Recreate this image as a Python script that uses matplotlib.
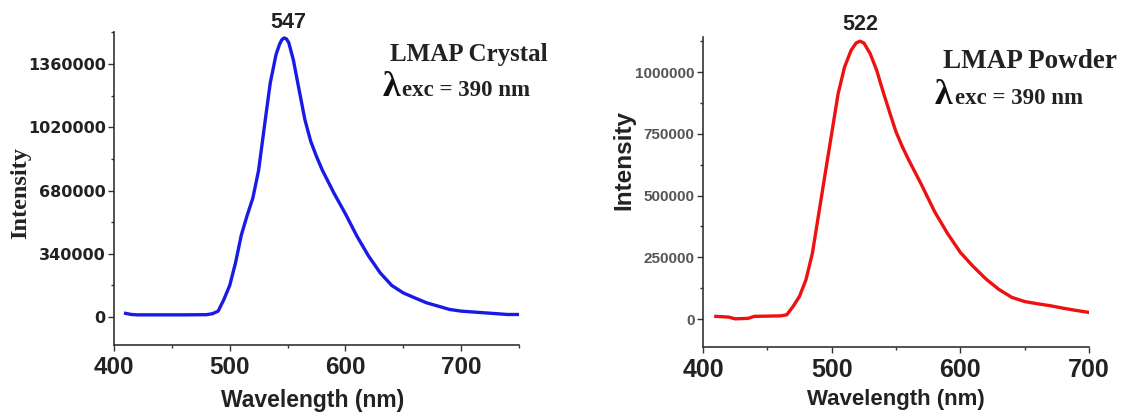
import numpy as np
import matplotlib
matplotlib.use("Agg")
import matplotlib.pyplot as plt
from matplotlib.ticker import MultipleLocator, FormatStrFormatter

# crystal spectrum
wl_crystal = [410, 415, 420, 440, 460, 480, 485, 490, 495, 500, 505, 510, 515, 520,
              525, 530, 535, 540, 543, 545, 547, 549, 551, 555, 560, 565, 570, 575,
              580, 590, 600, 610, 620, 630, 640, 650, 660, 670, 680, 690, 700, 720,
              740, 750]
int_crystal = [20000, 14000, 12000, 12000, 12000, 13000, 18000, 32000, 95000, 170000,
               291000, 440000, 545000, 640000, 790000, 1026000, 1257000, 1410000,
               1465000, 1490000, 1500000, 1495000, 1475000, 1382000, 1220000, 1060000,
               945000, 863000, 790000, 667000, 555000, 434000, 328000, 238000, 170000,
               130000, 103000, 77000, 59000, 41000, 32000, 23000, 14000, 14000]

# powder spectrum
wl_powder = [410, 420, 425, 435, 440, 460, 465, 470, 475, 480, 485, 490, 495, 500,
             505, 510, 515, 519, 522, 525, 530, 535, 540, 545, 550, 555, 560, 570,
             580, 590, 600, 610, 620, 630, 640, 650, 660, 670, 680, 690, 700]
int_powder = [11000, 8000, 1000, 3000, 11000, 13000, 17000, 51000, 92000, 159000,
              266000, 428000, 590000, 751000, 912000, 1020000, 1087000, 1118000,
              1125000, 1118000, 1074000, 1007000, 920000, 838000, 758000, 697000,
              643000, 542000, 435000, 347000, 270000, 213000, 162000, 120000, 88000,
              71000, 62000, 54000, 44000, 35000, 27000]

W, H = 1123, 412
fig = plt.figure(figsize=(W / 100, H / 100), dpi=100)
sans = "Liberation Sans"
serif = "Liberation Serif"

def px(x, y):
    return x / W, 1 - y / H

def style_axes(ax, ytick_font, ytick_size, ytick_color, xtick_size):
    for s in ["top", "right"]:
        ax.spines[s].set_visible(False)
    for s in ["left", "bottom"]:
        ax.spines[s].set_linewidth(1.2)
        ax.spines[s].set_color("#333333")
    ax.tick_params(which="major", direction="out", length=4, width=1, color="#333333")
    ax.tick_params(which="minor", direction="out", length=2.5, width=1, color="#333333")
    ax.tick_params(axis="y", labelsize=ytick_size, labelcolor=ytick_color, pad=2)
    ax.tick_params(axis="x", labelsize=xtick_size, labelcolor="#222222", pad=4)
    ax.yaxis.set_major_formatter(FormatStrFormatter("%d"))
    ax.xaxis.set_major_locator(MultipleLocator(100))
    ax.xaxis.set_minor_locator(MultipleLocator(50))
    for lab in ax.get_yticklabels():
        lab.set_fontweight("bold")
        lab.set_family(ytick_font)
    for lab in ax.get_xticklabels():
        lab.set_fontweight("bold")
        lab.set_family(sans)

# left panel
ax1 = fig.add_axes([114 / W, 1 - 345 / H, (519 - 114) / W, (345 - 32) / H])
ax1.plot(wl_crystal, int_crystal, color="#1a1ae6", lw=2.4)
ax1.set_xlim(400, 750)
ax1.set_ylim(-150000, 1532000)
ax1.set_yticks([0, 340000, 680000, 1020000, 1360000])
ax1.yaxis.set_minor_locator(MultipleLocator(170000))
style_axes(ax1, "DejaVu Sans", 11.5, "#222222", 17.5)

# right panel
ax2 = fig.add_axes([703 / W, 1 - 347 / H, (1089 - 703) / W, (347 - 37) / H])
ax2.plot(wl_powder, int_powder, color="#ee1111", lw=2.4)
ax2.set_xlim(400, 700)
ax2.set_ylim(-113000, 1142000)
ax2.set_yticks([0, 250000, 500000, 750000, 1000000])
ax2.yaxis.set_minor_locator(MultipleLocator(125000))
style_axes(ax2, sans, 11, "#555555", 18)

# axis titles
fig.text(*px(313, 400), "Wavelength (nm)", ha="center", va="center",
         fontsize=16.5, fontweight="bold", family=sans, color="#222222")
fig.text(*px(896, 400), "Wavelength (nm)", ha="center", va="center",
         fontsize=16, fontweight="bold", family=sans, color="#222222")
fig.text(*px(21, 193), "Intensity", rotation=90, ha="center", va="center",
         fontsize=17.5, fontweight="bold", family=serif, color="#222222")
fig.text(*px(624, 160), "Intensity", rotation=90, ha="center", va="center",
         fontsize=17.5, fontweight="bold", family=sans, color="#222222")

# peak labels
fig.text(*px(288, 22), "547", ha="center", va="center", fontsize=15.5,
         fontweight="bold", family=sans, color="#222222")
fig.text(*px(860, 25), "522", ha="center", va="center", fontsize=15.5,
         fontweight="bold", family=sans, color="#222222")

# sample annotations
fig.text(*px(390, 55), "LMAP Crystal", ha="left", va="center", fontsize=18,
         fontweight="bold", family=serif, color="#222222")
fig.text(*px(383, 87), "λ", ha="left", va="center", fontsize=26,
         fontweight="bold", family=serif, color="#111111")
fig.text(*px(402, 91), "exc = 390 nm", ha="left", va="center", fontsize=16.5,
         fontweight="bold", family=serif, color="#222222")

fig.text(*px(943, 62), "LMAP Powder", ha="left", va="center", fontsize=19.5,
         fontweight="bold", family=serif, color="#222222")
fig.text(*px(935, 95), "λ", ha="left", va="center", fontsize=26,
         fontweight="bold", family=serif, color="#111111")
fig.text(*px(955, 99), "exc = 390 nm", ha="left", va="center", fontsize=16.5,
         fontweight="bold", family=serif, color="#222222")

fig.savefig("out.png", dpi=100)
